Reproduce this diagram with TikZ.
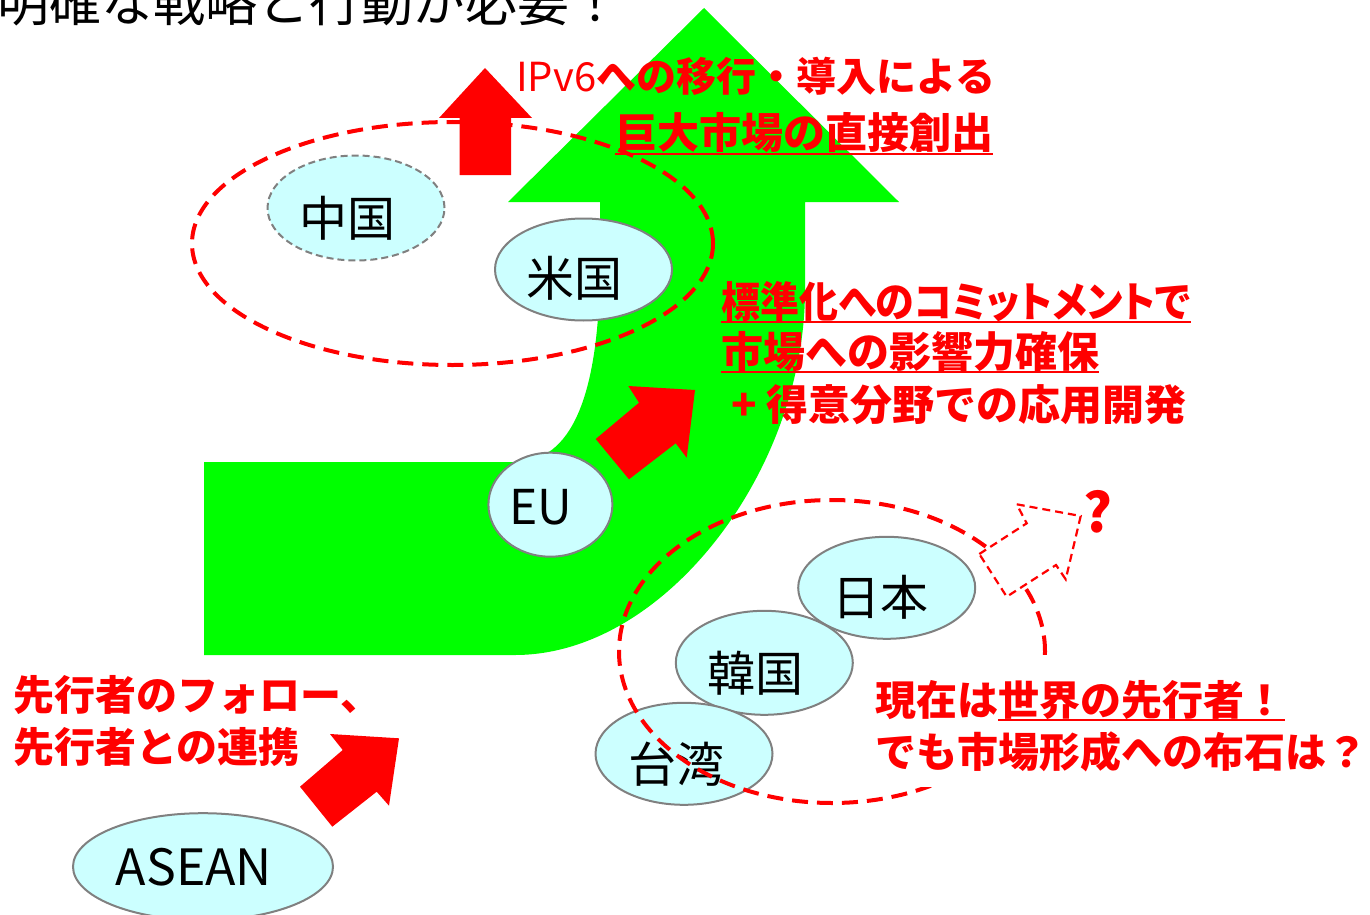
\documentclass[tikz,border=0pt]{standalone}
\usepackage{fontspec}
\newfontfamily\jp{Noto Sans CJK JP}
\newfontfamily\jpp{Noto Sans CJK JP}[RawFeature=+palt]
\usetikzlibrary{shapes.geometric}
\definecolor{nodefill}{HTML}{CCFFFF}
\definecolor{nodeline}{HTML}{808080}
\definecolor{grn}{HTML}{00FF00}
\definecolor{rd}{HTML}{FF0000}
\newcommand\fsz[1]{\fontsize{#1}{#1}\selectfont}
\newcommand\redul[1]{\leavevmode\setbox0=\hbox{#1}\rlap{\raisebox{-6pt}{\rule{\wd0}{2pt}}}\box0}
\begin{document}
\begin{tikzpicture}[x=1pt,y=-1pt,
  ctry/.style={ellipse, fill=nodefill, draw=nodeline, line width=2pt, inner sep=0pt},
  ctrydash/.style={ctry, dash pattern=on 7pt off 4pt},
  lbl/.style={inner sep=0pt, font=\jp\fsz{48}},
  latlbl/.style={inner sep=0pt, font=\jp\fsz{50}},
  redtxt/.style={anchor=base west, inner sep=0pt, text=rd, font=\jp\bfseries\fsz{42}},
  zone/.style={ellipse, draw=rd, line width=4pt, dash pattern=on 16pt off 9pt, inner sep=0pt},
  redarrow/.style={fill=rd},
  maybearrow/.style={fill=white, draw=rd, line width=2.2pt, dash pattern=on 8pt off 5pt},
  whitebox/.style={fill=white, inner ysep=0pt, inner xsep=5pt},
]
\useasboundingbox (0,0) rectangle (1370,915);

% title
\node[anchor=base west, inner sep=0pt, font=\jp\fsz{52}] (title) at (-3,22) {明確な戦略と行動が必要！};

% big green arrow
\fill[grn] (204,462) -- (515,462) .. controls (570,462) and (600,400) .. (600,260)
  -- (600,202) -- (508,202) -- (704,8) -- (899,202) -- (805,202) -- (805,290)
  .. controls (805,470) and (665,655) .. (515,655) -- (204,655) -- cycle;

% dashed zone around China / USA
\node[zone, minimum width=521pt, minimum height=243pt] (zone1) at (452.5,243.5) {};

% red arrows
\fill[redarrow] (459.5,175) -- (459.5,118) -- (439,118) -- (485,68) -- (532,118) -- (511,118) -- (511,175) -- cycle;
\fill[redarrow] (595.7,439) -- (639,402.7) -- (628.3,386) -- (695,390) -- (686.7,457.7) -- (675.7,443.3) -- (629,479.3) -- cycle;
\fill[redarrow] (300,786.7) -- (342.7,750) -- (330,734) -- (399,738.3) -- (389,805.7) -- (376.7,791.7) -- (332.3,826.7) -- cycle;

% country nodes
\node[ctrydash, minimum width=177pt, minimum height=105pt] (cn) at (356,208) {};
\node[lbl, shift={(-9,10)}] (cnl) at (cn.center) {中国};
\node[ctry, minimum width=177pt, minimum height=102pt] (us) at (583.5,269.5) {};
\node[lbl, shift={(-9,8.5)}] (usl) at (us.center) {米国};
\node[ctry, minimum width=124pt, minimum height=104pt] (eu) at (550.4,504.7) {};
\node[latlbl, font=\jp\fsz{48}, shift={(-9.4,2.3)}] (eul) at (eu.center) {EU};
\node[ctry, minimum width=177pt, minimum height=102pt] (jpn) at (886.7,587.8) {};
\node[lbl, shift={(-6.7,9.7)}] (jpnl) at (jpn.center) {日本};
\node[ctry, minimum width=177pt, minimum height=104pt] (kr) at (764.3,662.8) {};
\node[lbl, shift={(-9.3,10.5)}] (krl) at (kr.center) {韓国};
\node[ctry, minimum width=177pt, minimum height=102pt] (tw) at (684,753.8) {};
\node[lbl, shift={(-8,10.2)}] (twl) at (tw.center) {台湾};
\node[ctry, minimum width=260pt, minimum height=107pt] (asean) at (203,866.7) {};
\node[latlbl, shift={(-9,0.8)}] (aseanl) at (asean.center) {ASEAN};

% dashed zone around Japan / Korea / Taiwan
\node[zone, minimum width=426pt, minimum height=303pt] (zone2) at (832,651.5) {};

% dashed "maybe" arrow
\filldraw[maybearrow] (979.3,554) -- (1026.7,523.3) -- (1016.7,504.3) -- (1080.7,516) -- (1065.7,579.3) -- (1056,565) -- (1006.7,596.7) -- cycle;
\node[inner sep=0pt, text=rd, font=\jp\bfseries\fsz{54}] (q) at (1098,512) {?};

% red texts
\node[redtxt, font=\jp\bfseries\fsz{40}] (t1) at (516,92) {{\mdseries IPv6}への移行・導入による};
\node[redtxt] (t2) at (615,149) {\redul{巨大市場の直接創出}};
\node[redtxt] (t3) at (721,317) {\redul{\scalebox{0.927}[1]{\jpp\bfseries 標準化へのコミットメントで}}};
\node[redtxt] (t4) at (721,367) {\redul{市場への影響力確保}};
\node[redtxt] (t5) at (731,420) {+ 得意分野での応用開発};
\node[redtxt, font=\jp\bfseries\fsz{41}] (t6) at (13,710) {先行者のフォロー、};
\node[redtxt, font=\jp\bfseries\fsz{41}] (t7) at (13,762) {先行者との連携};
\node[redtxt, whitebox, font=\jp\bfseries\fsz{41}, text height=60pt, text depth=14pt] (t8) at (870,715) {現在は\redul{世界の先行者！}};
\node[redtxt, whitebox, font=\jp\bfseries\fsz{41}, text height=38pt, text depth=20pt] (t9) at (870,767) {でも市場形成への布石は？};
\end{tikzpicture}
\end{document}
